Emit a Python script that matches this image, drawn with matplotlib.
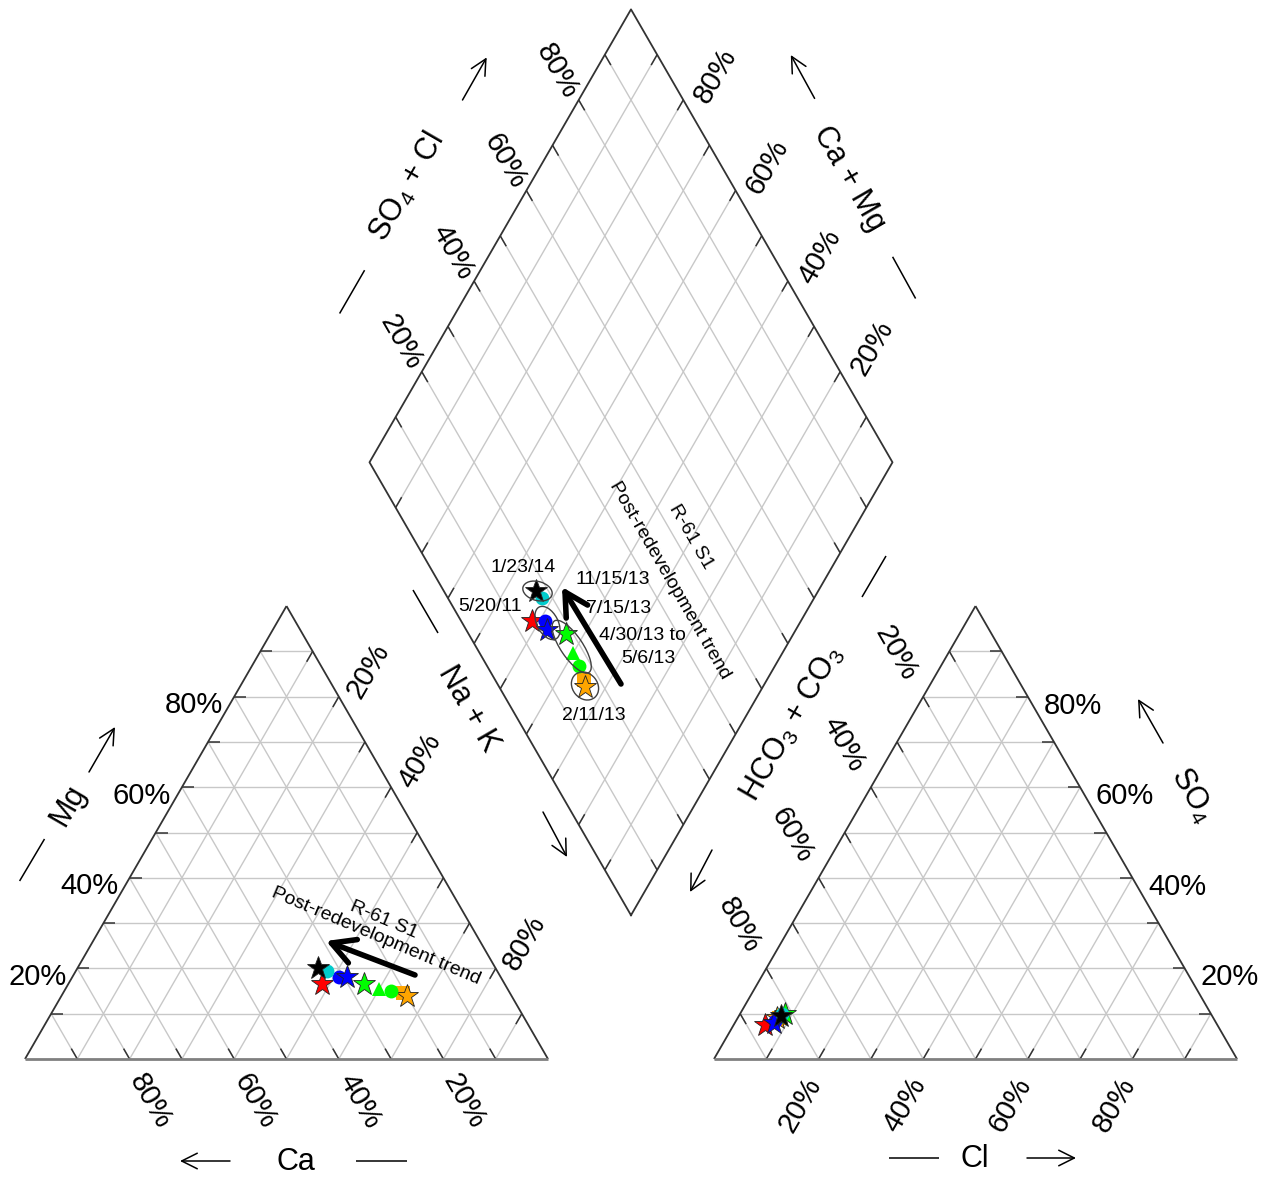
import numpy as np
import matplotlib
matplotlib.use('Agg')
import matplotlib.pyplot as plt
from matplotlib.patches import Ellipse

plt.rcParams['font.family'] = ['Liberation Sans', 'DejaVu Sans']
plt.rcParams['mathtext.fontset'] = 'custom'
plt.rcParams['mathtext.rm'] = 'Liberation Sans'
plt.rcParams['mathtext.it'] = 'Liberation Sans:italic'

# R-61 S1 samples, oldest first (percent of meq)
colors = ['red', 'orange', 'orange', 'lime', 'lime', 'lime', 'blue', 'blue', '#00cccc', 'black']
markers = ['*', 's', '*', 'o', '^', '*', 'o', '*', 'o', '*']
ca = [35, 20.5, 20, 22.5, 24.5, 27, 31, 29.5, 32.5, 34]
mg = [16.5, 14.5, 14, 15, 15.5, 16.5, 18, 18, 19.5, 20]
so4 = [7.5, 9, 9, 9.5, 10, 10, 8.5, 8, 10, 9.5]
cl = [6, 8, 7.5, 8, 8, 8.5, 7.5, 7.5, 8, 8]
nak = [100 - a - b for a, b in zip(ca, mg)]
hco3 = [100 - a - b for a, b in zip(so4, cl)]

ticklabels = ['20%', '40%', '60%', '80%']
date_labels = ['1/23/14', '11/15/13', '5/20/11', '7/15/13', '4/30/13 to', '5/6/13', '2/11/13']

# geometry (1 unit = one triangle side, 523 px)
S = 523.0
X0, Y0 = 25.0, 1059.0
H = np.sqrt(3) / 2
GAP = 166 / S
OX = 1 + GAP
BX, BY = 1 + GAP / 2, GAP * H
T = 12 / S  # tick length
GRID = '#c8c8c8'
EDGE = '#333333'


def px(x, y):
    return ((x - X0) / S, (Y0 - y) / S)


def off(p, dx, dy):
    return (p[0] + dx / S, p[1] - dy / S)


def cation_xy(c, m, n):
    t = c + m + n
    return n / t + m / t / 2, m / t * H


def anion_xy(h, s, c):
    t = h + s + c
    return OX + c / t + s / t / 2, s / t * H


def diamond_xy(n, s):
    m = 1 - n
    return BX + 0.5 * (s - m), BY + H * (s + m)


fig = plt.figure(figsize=(12.7, 11.77), dpi=100)
ax = fig.add_axes([0, 0, 1, 1])
ax.set_xlim(-X0 / S, (1270 - X0) / S)
ax.set_ylim(-(1177 - Y0) / S, Y0 / S)
ax.axis('off')


def seg(p, q, color=GRID, lw=1.0, z=1):
    ax.plot([p[0], q[0]], [p[1], q[1]], color=color, lw=lw, zorder=z, solid_capstyle='butt')


def tick(p, d):
    seg(p, (p[0] + d[0] * T, p[1] + d[1] * T), color=EDGE, lw=1.1, z=2)


# ---- grids ----
for i in range(1, 10):
    v = i / 10
    # left triangle
    a, b = (v / 2, v * H), (1 - v / 2, v * H)
    seg(a, b); tick(a, (1, 0))
    a, b = (1 - v, 0), ((1 - v) / 2, (1 - v) * H)
    seg(a, b); tick(a, (-0.5, H))
    a, b = (v, 0), (v + (1 - v) / 2, (1 - v) * H)
    seg(a, b); tick(b, (-0.5, -H))
    # right triangle
    a, b = (OX + v / 2, v * H), (OX + 1 - v / 2, v * H)
    seg(a, b); tick(b, (-1, 0))
    a, b = (OX + v, 0), (OX + v + (1 - v) / 2, (1 - v) * H)
    seg(a, b); tick(a, (0.5, H))
    a, b = (OX + 1 - v, 0), (OX + (1 - v) / 2, (1 - v) * H)
    seg(a, b); tick(b, (0.5, -H))
    # diamond
    a, b = diamond_xy(0, v), diamond_xy(1, v)
    seg(a, b); tick(a, (0.5, -H)); tick(b, (-0.5, H))
    a, b = diamond_xy(1 - v, 1), diamond_xy(1 - v, 0)
    seg(a, b); tick(a, (-0.5, -H)); tick(b, (0.5, H))

# outlines
for o in (0, OX):
    seg((o, 0), (o + 0.5, H), color=EDGE, lw=1.3, z=3)
    seg((o + 0.5, H), (o + 1, 0), color=EDGE, lw=1.3, z=3)
    seg((o, 0), (o + 1, 0), color='#808080', lw=2.0, z=3)
dv = [diamond_xy(1, 0), diamond_xy(0, 0), diamond_xy(0, 1), diamond_xy(1, 1), diamond_xy(1, 0)]
ax.plot([p[0] for p in dv], [p[1] for p in dv], color=EDGE, lw=1.3, zorder=3)

# ---- tick labels ----
FS = 21
for k, lab in enumerate(ticklabels):
    v = (k + 1) * 0.2
    # Ca (bottom, left triangle)
    ax.text(*off((1 - v, 0), 21, 42), lab, rotation=-60, ha='center', va='center', fontsize=FS)
    # Mg (left side)
    ax.text(*off((v / 2, v * H), -40, 8.5), lab, ha='center', va='center', fontsize=FS)
    # Na + K (right side, 60% hidden behind axis title)
    if lab != '60%':
        ax.text(*off((v + (1 - v) / 2, (1 - v) * H), 29, -26), lab, rotation=60,
                ha='center', va='center', fontsize=FS)
    # Cl (bottom, right triangle)
    ax.text(*off((OX + v, 0), -18, 46), lab, rotation=60, ha='center', va='center', fontsize=FS)
    # SO4 (right side)
    ax.text(*off((OX + 1 - v / 2, v * H), 45, 9), lab, ha='center', va='center', fontsize=FS)
    # HCO3 + CO3 (left side of right triangle)
    ax.text(*off((OX + (1 - v) / 2, (1 - v) * H), -27, -43), lab, rotation=-60,
            ha='center', va='center', fontsize=FS)
    # diamond
    ax.text(*off(diamond_xy(0, v), -21, -29), lab, rotation=-60, ha='center', va='center', fontsize=FS)
    ax.text(*off(diamond_xy(1 - v, 1), 32, -24), lab, rotation=60, ha='center', va='center', fontsize=FS)


# ---- axis titles ----
def arrow(p, q):
    ax.annotate('', xy=px(*q), xytext=px(*p),
                arrowprops=dict(arrowstyle='->', lw=1.1, color='k', mutation_scale=28,
                                shrinkA=0, shrinkB=0))


def line(p, q):
    a, b = px(*p), px(*q)
    seg(a, b, color='k', lw=1.1, z=3)


TS = 22
line((19.6, 881), (44.5, 839)); arrow((89, 772), (115, 727))
ax.text(*px(67.7, 805), 'Mg', rotation=60, ha='center', va='center', fontsize=TS)
arrow((230, 1161), (180, 1161)); line((356, 1161), (407, 1161))
ax.text(*px(296, 1162), 'Ca', ha='center', va='center', fontsize=TS)
line((413, 590), (438, 633)); arrow((543, 812), (567, 857))
ax.text(*px(468, 709), 'Na + K', rotation=-60, ha='center', va='center', fontsize=TS)
line((862, 597), (886, 556)); arrow((712, 850), (690, 892))
ax.text(*px(792, 724), r'HCO$_3$ + CO$_3$', rotation=60, ha='center', va='center', fontsize=TS)
arrow((1163, 743), (1138, 699))
ax.text(*px(1192, 795), r'SO$_4$', rotation=-60, ha='center', va='center', fontsize=TS)
line((889, 1158), (939, 1158)); arrow((1027, 1158), (1076, 1158))
ax.text(*px(975, 1159), 'Cl', ha='center', va='center', fontsize=TS)
line((339.6, 313.5), (364.6, 270.2)); arrow((462.5, 100), (486.7, 57.4))
ax.text(*px(406.8, 186.8), r'SO$_4$ + Cl', rotation=60, ha='center', va='center', fontsize=TS)
arrow((814.6, 98.4), (790.8, 55)); line((892.6, 256.8), (915.6, 298.5))
ax.text(*px(849.4, 178.5), 'Ca + Mg', rotation=-60, ha='center', va='center', fontsize=TS)

# ---- samples ----
for i in range(len(ca)):
    star = markers[i] == '*'
    kw = dict(marker=markers[i], color=colors[i], ms=17 if star else 10,
              mec='#222222' if star else colors[i], mew=0.6 if star else 0, ls='none', zorder=10 + i)
    x, y = cation_xy(ca[i], mg[i], nak[i])
    ax.plot(x, y, **kw)
    x, y = anion_xy(hco3[i], so4[i], cl[i])
    ax.plot(x, y, **kw)
    x, y = diamond_xy(nak[i] / 100, (so4[i] + cl[i]) / 100)
    ax.plot(x, y, **kw)

# sample groupings in the diamond
for (cx, cy, w, h, ang) in [(537.5, 591, 30, 19, -15), (547.5, 623, 36, 21, -62),
                            (571.7, 646.7, 62, 22, -56), (585, 686, 30, 25, -50)]:
    ax.add_patch(Ellipse(px(cx, cy), w / S, h / S, angle=ang, fill=False,
                         ec='#404040', lw=1.0, zorder=25))

# date labels
DS = 14
for lab, (x, y) in zip(date_labels, [(523, 568), (613, 580), (490, 607), (619, 609),
                                     (642, 636), (648, 659), (594, 716)]):
    ax.text(*px(x, y), lab, ha='center', va='center', fontsize=DS, zorder=30)

# trend arrows and notes
trend = dict(arrowstyle='->,head_length=0.55,head_width=0.3', lw=4, color='k',
             mutation_scale=30, shrinkA=0, shrinkB=0)
ax.annotate('', xy=px(562, 587), xytext=px(621, 684), arrowprops=trend, zorder=30)
ax.annotate('', xy=px(326, 941), xytext=px(415, 975), arrowprops=trend, zorder=30)
ax.text(*px(691, 537), 'R-61 S1', rotation=-60, rotation_mode='anchor',
        ha='center', va='center', fontsize=DS, zorder=30)
ax.text(*px(670, 580), 'Post-redevelopment trend', rotation=-60, rotation_mode='anchor',
        ha='center', va='center', fontsize=DS, zorder=30)
ax.text(*px(380, 928), 'R-61 S1\nPost-redevelopment trend', rotation=-23, rotation_mode='anchor',
        ha='center', va='center', fontsize=DS, linespacing=1.1, zorder=30)

fig.savefig('out.png', dpi=100, facecolor='white')
